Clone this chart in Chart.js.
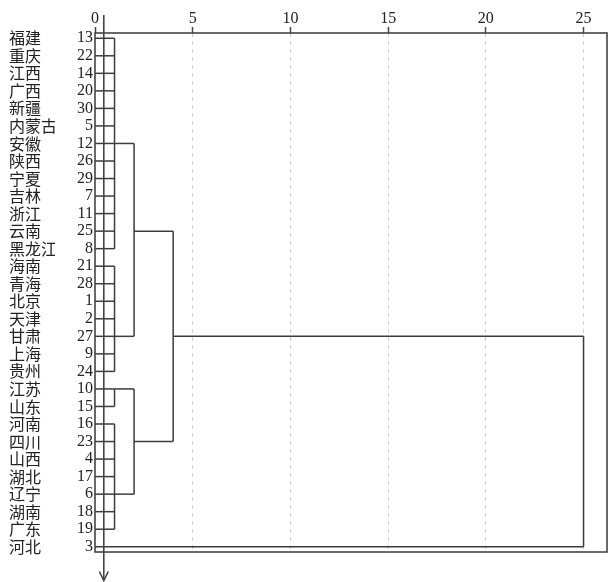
<!DOCTYPE html>
<html>
<head>
<meta charset="utf-8">
<script src="https://cdn.jsdelivr.net/npm/chart.js@4.4.1/dist/chart.umd.min.js"></script>
<style>
  html, body { margin: 0; padding: 0; background: #fff; }
  #wrap { width: 608px; height: 582px; }
</style>
</head>
<body>
<div id="wrap"><canvas id="dendro"></canvas></div>
<script>
const provinces = ["福建", "重庆", "江西", "广西", "新疆", "内蒙古", "安徽", "陕西", "宁夏", "吉林",
    "浙江", "云南", "黑龙江", "海南", "青海", "北京", "天津", "甘肃", "上海", "贵州",
    "江苏", "山东", "河南", "四川", "山西", "湖北", "辽宁", "湖南", "广东", "河北"];
const caseIds = [13, 22, 14, 20, 30, 5, 12, 26, 29, 7, 11, 25, 8, 21, 28, 1, 2, 27, 9, 24,
    10, 15, 16, 23, 4, 17, 6, 18, 19, 3];
const xTicks = [0, 5, 10, 15, 20, 25];

// merges: children are leaf rows (numbers) or earlier merges ("n<i>")
const mergeChildren = [
    [0, 1, 2, 3, 4, 5, 6, 7, 8, 9, 10, 11, 12],
    [13, 14, 15, 16, 17, 18, 19],
    [20, 21],
    [22, 23, 24, 25, 26, 27, 28],
    ["n0", "n1"],
    ["n2", "n3"],
    ["n4", "n5"],
    ["n6", 29]
];
const mergeHeights = [1, 1, 1, 1, 2, 2, 4, 25];
const mergeRows = [6, 17, 20, 26, 11, 23, 17, 29];

const textColor = "#222";
const lineColor = "#3c3c3c";
const arrowValue = 0.45;

function childPos(c) {
    if (typeof c === "number") return { h: 0, row: c };
    const i = Number(c.slice(1));
    return { h: mergeHeights[i], row: mergeRows[i] };
}

// build the elbow segments of the tree
const segments = [];
mergeChildren.forEach((children, i) => {
    const h = mergeHeights[i];
    const rows = [];
    children.forEach(c => {
        const p = childPos(c);
        rows.push(p.row);
        segments.push([{ x: p.h, y: p.row }, { x: h, y: p.row }]);
    });
    segments.push([{ x: h, y: Math.min(...rows) }, { x: h, y: Math.max(...rows) }]);
});

const frameAndArrow = {
    id: "frameAndArrow",
    afterDatasetsDraw(chart) {
        const { ctx, chartArea: a, scales } = chart;
        ctx.save();
        ctx.strokeStyle = "#444";
        ctx.lineWidth = 1.6;
        ctx.strokeRect(a.left, a.top, a.right - a.left, a.bottom - a.top);
        const ax = scales.x.getPixelForValue(arrowValue);
        const tip = chart.height - 1.5;
        ctx.beginPath();
        ctx.moveTo(ax, 15);
        ctx.lineTo(ax, tip);
        ctx.stroke();
        ctx.beginPath();
        ctx.moveTo(ax - 4.5, tip - 9);
        ctx.lineTo(ax, tip);
        ctx.lineTo(ax + 4.5, tip - 9);
        ctx.stroke();
        ctx.restore();
    }
};

const serif = { family: '"Liberation Serif", "Times New Roman", serif', size: 16 };
const cjk = { family: '"Noto Sans CJK SC", sans-serif', size: 16 };

new Chart(document.getElementById("dendro"), {
    type: "line",
    data: {
        datasets: segments.map(s => ({
            data: s,
            borderColor: lineColor,
            borderWidth: 1.5,
            pointRadius: 0,
            tension: 0,
            fill: false
        }))
    },
    options: {
        responsive: true,
        maintainAspectRatio: false,
        animation: false,
        layout: { padding: { left: 9, right: 1, top: 0, bottom: 30 } },
        plugins: { legend: { display: false }, tooltip: { enabled: false } },
        scales: {
            x: {
                type: "linear",
                position: "top",
                min: 0,
                max: 26.2,
                afterBuildTicks: s => { s.ticks = xTicks.map(v => ({ value: v })); },
                afterFit: s => { s.height = 33; },
                grid: {
                    color: c => (c.tick && c.tick.value === 0) ? "rgba(0,0,0,0)" : "#cfcfcf",
                    lineWidth: 1,
                    tickColor: "#444",
                    tickLength: 6,
                    tickWidth: 1.5
                },
                border: { display: false, dash: [4, 4] },
                ticks: { padding: -1, color: textColor, font: serif, maxRotation: 0, autoSkip: false }
            },
            y: {
                type: "linear",
                position: "left",
                reverse: true,
                min: -0.3,
                max: 29.3,
                weight: 0,
                afterBuildTicks: s => { s.ticks = caseIds.map((_, i) => ({ value: i })); },
                afterFit: s => { s.width = 40; },
                grid: { display: false, drawTicks: false },
                border: { display: false },
                ticks: { autoSkip: false, padding: 2, color: textColor, font: serif,
                    callback: v => caseIds[v] }
            },
            y2: {
                type: "linear",
                position: "left",
                reverse: true,
                min: -0.3,
                max: 29.3,
                weight: 1,
                afterBuildTicks: s => { s.ticks = provinces.map((_, i) => ({ value: i })); },
                afterFit: s => { s.width = 46; },
                grid: { display: false, drawTicks: false },
                border: { display: false },
                ticks: { autoSkip: false, crossAlign: "far", color: textColor, font: cjk,
                    callback: v => provinces[v] }
            }
        }
    },
    plugins: [frameAndArrow]
});
</script>
</body>
</html>
